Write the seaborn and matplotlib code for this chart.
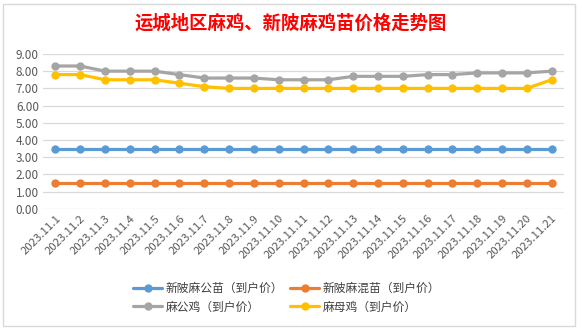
import matplotlib
matplotlib.use("Agg")
import matplotlib.pyplot as plt
import matplotlib.transforms as mtransforms
import seaborn as sns
import pandas as pd
from matplotlib.patches import Rectangle

dates = [f"2023.11.{d}" for d in range(1, 22)]
gongmiao = [3.5] * 21
hunmiao = [1.5] * 21
gongji = [8.3, 8.3, 8.0, 8.0, 8.0, 7.8, 7.6, 7.6, 7.6, 7.5, 7.5, 7.5, 7.7, 7.7, 7.7, 7.8, 7.8, 7.9, 7.9, 7.9, 8.0]
muji = [7.8, 7.8, 7.5, 7.5, 7.5, 7.3, 7.1, 7.0, 7.0, 7.0, 7.0, 7.0, 7.0, 7.0, 7.0, 7.0, 7.0, 7.0, 7.0, 7.0, 7.5]
series_names = ["新陂麻公苗（到户价）", "新陂麻混苗（到户价）", "麻公鸡（到户价）", "麻母鸡（到户价）"]
colors = ["#5B9BD5", "#ED7D31", "#A5A5A5", "#FFC000"]
yticks = [0, 1, 2, 3, 4, 5, 6, 7, 8, 9]

sns.set_theme(style="white")
plt.rcParams['font.family'] = ['Noto Sans CJK SC', 'DejaVu Sans']

rows = []
for name, vals in zip(series_names, [gongmiao, hunmiao, gongji, muji]):
    for i, v in enumerate(vals):
        rows.append({"idx": i, "value": v, "series": name})
df = pd.DataFrame(rows)

fig = plt.figure(figsize=(5.82, 3.29), dpi=100)
fig.patches.append(Rectangle((0.006, 0.01), 0.982, 0.978, transform=fig.transFigure,
                             fill=False, edgecolor="#d9d9d9", linewidth=1))
ax = fig.add_axes([0.074, 0.365, 0.895, 0.471])

sns.lineplot(data=df, x="idx", y="value", hue="series", hue_order=series_names,
             palette=colors, marker="o", markersize=6, markeredgewidth=0,
             linewidth=2.3, ax=ax, legend=True)

ax.set_xlim(-0.5, len(dates) - 0.5)
ax.set_ylim(0, 9)
ax.set_yticks(yticks)
ax.set_yticklabels([f"{v:.2f}" for v in yticks], fontsize=8.5, color="#595959")
ax.set_xticks(range(len(dates)))
ax.set_xticklabels(dates, rotation=45, ha="right", rotation_mode="anchor",
                   fontsize=8.2, color="#595959")
offset = mtransforms.ScaledTranslation(5 / 100, 0, fig.dpi_scale_trans)
for lbl in ax.get_xticklabels():
    lbl.set_transform(lbl.get_transform() + offset)
ax.tick_params(axis="both", length=0, pad=3)
ax.grid(axis="y", color="#d9d9d9", linewidth=0.9)
ax.set_axisbelow(True)
for s in ax.spines.values():
    s.set_visible(False)
ax.set_xlabel("")
ax.set_ylabel("")

handles, labels = ax.get_legend_handles_labels()
ax.get_legend().remove()
order = [0, 2, 1, 3]
fig.legend([handles[i] for i in order], [labels[i] for i in order], ncol=2,
           loc="center", bbox_to_anchor=(0.493, 0.095),
           frameon=False, fontsize=8.5, handlelength=2.45, columnspacing=0.6,
           handletextpad=0.3, labelspacing=0.45, labelcolor="#404040")

fig.text(0.5, 0.93, "运城地区麻鸡、新陂麻鸡苗价格走势图", ha="center", va="center",
         fontsize=13.2, color="#FF0000", fontweight="bold")

fig.savefig("out.png", dpi=100)
